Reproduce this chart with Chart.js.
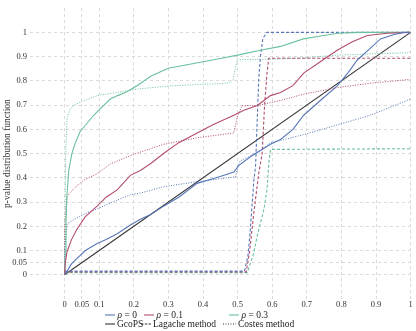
<!DOCTYPE html>
<html>
<head>
<meta charset="utf-8">
<script src="https://cdn.jsdelivr.net/npm/chart.js@4"></script>
<style>
html, body { margin: 0; padding: 0; background: #fff; }
#wrap { position: relative; width: 416px; height: 331px; }
</style>
</head>
<body>
<div id="wrap"><canvas id="chart" width="416" height="331"></canvas></div>
<script>
// tick positions
const xTicks = [0, 0.05, 0.1, 0.2, 0.3, 0.4, 0.5, 0.6, 0.7, 0.8, 0.9, 1];
const yTicks = [0, 0.05, 0.1, 0.2, 0.3, 0.4, 0.5, 0.6, 0.7, 0.8, 0.9, 1];

// reference diagonal
const refX = [0, 1];
const refY = [0, 1];

// GcoPS (solid)
const gcopsX0 = [0, 0.007, 0.02, 0.036, 0.06, 0.094, 0.12, 0.152, 0.19, 0.219, 0.25, 0.286, 0.33, 0.383, 0.431, 0.47, 0.489, 0.503, 0.54, 0.595, 0.624, 0.66, 0.691, 0.74, 0.788, 0.82, 0.846, 0.88, 0.913, 0.95, 0.98, 1];
const gcopsY0 = [0, 0.015, 0.045, 0.068, 0.1, 0.129, 0.145, 0.169, 0.205, 0.229, 0.25, 0.283, 0.32, 0.377, 0.397, 0.415, 0.424, 0.45, 0.49, 0.538, 0.558, 0.6, 0.658, 0.72, 0.779, 0.835, 0.886, 0.93, 0.973, 0.99, 1, 1];

const gcopsX1 = [0, 0.002, 0.007, 0.02, 0.036, 0.06, 0.094, 0.12, 0.152, 0.19, 0.219, 0.25, 0.286, 0.33, 0.383, 0.43, 0.489, 0.52, 0.557, 0.595, 0.624, 0.66, 0.691, 0.74, 0.788, 0.83, 0.875, 0.933, 1];
const gcopsY1 = [0, 0.05, 0.095, 0.145, 0.189, 0.24, 0.283, 0.32, 0.35, 0.41, 0.43, 0.46, 0.5, 0.545, 0.585, 0.62, 0.658, 0.68, 0.698, 0.739, 0.752, 0.78, 0.832, 0.88, 0.926, 0.96, 0.987, 0.996, 1];

const gcopsX3 = [0, 0.002, 0.004, 0.007, 0.012, 0.021, 0.03, 0.045, 0.065, 0.084, 0.11, 0.132, 0.155, 0.18, 0.209, 0.25, 0.3, 0.35, 0.4, 0.45, 0.5, 0.566, 0.624, 0.69, 0.74, 0.79, 0.85, 1];
const gcopsY3 = [0, 0.1, 0.22, 0.33, 0.43, 0.5, 0.54, 0.591, 0.625, 0.658, 0.695, 0.725, 0.74, 0.755, 0.78, 0.82, 0.852, 0.865, 0.879, 0.892, 0.906, 0.926, 0.942, 0.973, 0.985, 0.996, 1, 1];

// Lagache method (dashed)
const lagacheX0 = [0, 0.52, 0.53, 0.537, 0.547, 0.552, 0.557, 0.561, 0.566, 0.573, 0.585, 1];
const lagacheY0 = [0.015, 0.015, 0.08, 0.189, 0.39, 0.45, 0.65, 0.806, 0.9, 0.975, 1, 1];

const lagacheX1 = [0, 0.525, 0.535, 0.547, 0.561, 0.571, 0.578, 0.585, 0.59, 1];
const lagacheY1 = [0.012, 0.012, 0.1, 0.256, 0.417, 0.5, 0.7, 0.832, 0.893, 0.893];

const lagacheX3 = [0, 0.528, 0.545, 0.557, 0.576, 0.585, 0.59, 0.595, 1];
const lagacheY3 = [0.009, 0.009, 0.08, 0.162, 0.27, 0.35, 0.457, 0.517, 0.52];

// Costes method (dotted)
const costesX0 = [0, 0, 0.007, 0.03, 0.065, 0.1, 0.132, 0.19, 0.219, 0.286, 0.383, 0.494, 0.5, 0.508, 0.557, 0.595, 0.691, 0.788, 0.884, 1];
const costesY0 = [0, 0.1, 0.209, 0.23, 0.256, 0.275, 0.296, 0.33, 0.337, 0.363, 0.384, 0.404, 0.44, 0.47, 0.504, 0.544, 0.578, 0.618, 0.658, 0.725];

const costesX1 = [0, 0, 0.007, 0.03, 0.055, 0.094, 0.132, 0.2, 0.286, 0.383, 0.489, 0.499, 0.513, 0.557, 0.624, 0.691, 0.788, 0.884, 1];
const costesY1 = [0, 0.2, 0.324, 0.36, 0.39, 0.417, 0.457, 0.497, 0.538, 0.565, 0.585, 0.651, 0.698, 0.698, 0.719, 0.745, 0.772, 0.79, 0.806];

const costesX3 = [0, 0.003, 0.007, 0.015, 0.026, 0.05, 0.094, 0.15, 0.209, 0.306, 0.4, 0.451, 0.479, 0.487, 0.499, 0.52, 0.6, 0.7, 0.788, 0.9, 1];
const costesY3 = [0, 0.5, 0.645, 0.68, 0.698, 0.715, 0.739, 0.752, 0.766, 0.779, 0.786, 0.788, 0.792, 0.806, 0.886, 0.888, 0.889, 0.896, 0.906, 0.912, 0.916];

const rhoLabels = ["0", "0.1", "0.3"];
const methodLabels = ["GcoPS", "Lagache method", "Costes method"];

const BLUE = "#5877b8";
const RED = "#b24d6d";
const GREEN = "#69c09c";
const BLACK = "#333333";
const FONT = "'Liberation Serif', 'DejaVu Serif', serif";

const pts = (xs, ys) => xs.map((x, i) => ({ x: x, y: ys[i] }));

const line = (xs, ys, color, style) => ({
	data: pts(xs, ys),
	borderColor: color,
	borderWidth: style === "dotted" ? 1 : 1.1,
	borderDash: style === "dashed" ? [3, 2] : style === "dotted" ? [1, 1.5] : [],
	pointRadius: 0,
	fill: false,
	tension: 0,
});

const legendPlugin = {
	id: "legendRows",
	afterDraw(chart) {
		const ctx = chart.ctx;
		ctx.save();
		ctx.textBaseline = "middle";
		ctx.fillStyle = "#222";
		const sample = (x, y, w, color, dash) => {
			ctx.beginPath();
			ctx.strokeStyle = color;
			ctx.lineWidth = 1.1;
			ctx.setLineDash(dash);
			ctx.lineDashOffset = 0;
			ctx.moveTo(x, y);
			ctx.lineTo(x + w, y);
			ctx.stroke();
		};
		// row 1: colours
		const row1 = [[105, BLUE], [144, RED], [229, GREEN]];
		row1.forEach(([x, c], i) => {
			sample(x, 315, 10, c, []);
			ctx.font = "italic 9.5px " + FONT;
			ctx.fillText("ρ", x + 12.5, 315);
			const w = ctx.measureText("ρ").width;
			ctx.font = "9.5px " + FONT;
			ctx.fillText(" = " + rhoLabels[i], x + 12.5 + w, 315);
		});
		// row 2: line styles
		const row2 = [[105, 10, []], [141, 10, [2.5, 1.3]], [223, 13, [1, 1.5]]];
		row2.forEach(([x, w, d], i) => {
			sample(x, 324, w, BLACK, d);
			ctx.font = "9.5px " + FONT;
			ctx.fillText(methodLabels[i], x + w + 2, 324);
		});
		ctx.restore();
	},
};

new Chart(document.getElementById("chart"), {
	type: "line",
	data: {
		datasets: [
			line(gcopsX0, gcopsY0, BLUE, "solid"),
			line(gcopsX1, gcopsY1, RED, "solid"),
			line(gcopsX3, gcopsY3, GREEN, "solid"),
			line(lagacheX0, lagacheY0, BLUE, "dashed"),
			line(lagacheX1, lagacheY1, RED, "dashed"),
			line(lagacheX3, lagacheY3, GREEN, "dashed"),
			line(costesX0, costesY0, BLUE, "dotted"),
			line(costesX1, costesY1, RED, "dotted"),
			line(costesX3, costesY3, GREEN, "dotted"),
			line(refX, refY, BLACK, "solid"),
		],
	},
	options: {
		responsive: false,
		animation: false,
		layout: { padding: { top: 0, left: 0, right: 5.4, bottom: 0 } },
		plugins: {
			legend: { display: false },
			tooltip: { enabled: false },
		},
		scales: {
			x: {
				type: "linear",
				min: -0.1,
				max: 1,
				afterBuildTicks: (s) => { s.ticks = xTicks.map((v) => ({ value: v })); },
				afterFit: (s) => { s.height = 32; },
				ticks: {
					autoSkip: false,
					maxRotation: 0,
					padding: 1,
					color: "#333",
					font: { family: FONT, size: 8.5 },
					callback: (v) => String(v),
				},
				grid: { color: "#dadada", drawTicks: false },
				border: { display: false, dash: [3, 3] },
			},
			y: {
				type: "linear",
				min: -0.1,
				max: 1.1,
				afterBuildTicks: (s) => { s.ticks = yTicks.map((v) => ({ value: v })); },
				afterFit: (s) => { s.width = 30; },
				ticks: {
					padding: 3,
					color: "#333",
					font: { family: FONT, size: 8.5 },
					callback: (v) => String(v),
				},
				grid: { color: "#dadada", drawTicks: false },
				border: { display: false, dash: [3, 3] },
				title: {
					display: true,
					text: "p-value distribution function",
					color: "#333",
					font: { family: FONT, size: 9.5 },
					padding: { top: 1.3, bottom: 0 },
				},
			},
		},
	},
	plugins: [legendPlugin],
});
</script>
</body>
</html>
